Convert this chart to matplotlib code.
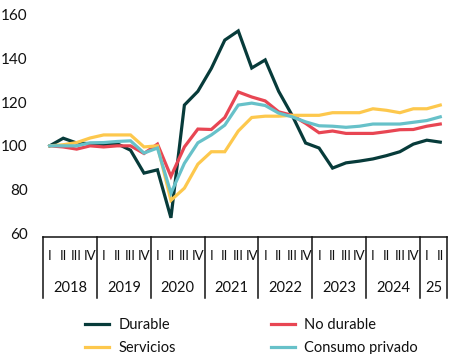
import matplotlib
matplotlib.use("Agg")
import matplotlib.pyplot as plt
import matplotlib.transforms as mtransforms
import numpy as np

plt.rcParams['font.family'] = ['Lato', 'DejaVu Sans']

years = ["2018", "2019", "2020", "2021", "2022", "2023", "2024", "25"]
quarters_per_year = [4, 4, 4, 4, 4, 4, 4, 2]
quarter_labels = ["I", "II", "III", "IV"]

durable = [100, 103.5, 101.3, 101, 100.3, 101, 98, 87.5, 89, 67,
           118.7, 125, 135.5, 148.5, 152.7, 135.7, 139.4, 125, 114, 101.3,
           99, 89.8, 92.2, 93, 94, 95.5, 97.3, 100.8, 102.6, 101.7]
no_durable = [100, 99.5, 98.5, 100, 99.5, 100, 100, 96.5, 100.8, 86,
              99.5, 107.7, 107.5, 113, 124.7, 122.4, 120.6, 115.6, 114, 110.3,
              106, 106.8, 105.7, 105.7, 105.7, 106.5, 107.4, 107.5, 109, 110]
servicios = [100, 100.5, 101.5, 103.6, 105, 105, 105, 99.5, 100, 75,
             80.6, 91.6, 97.3, 97.3, 106.8, 113, 113.6, 113.6, 114, 114,
             114, 115.2, 115.2, 115.2, 117, 116.3, 115.2, 117, 117, 118.7]
consumo = [100, 100, 100, 101.4, 101.5, 102, 102.3, 96.7, 99, 78.3,
           92, 101.4, 105, 109.5, 118.7, 119.6, 118.5, 115, 113.3, 111,
           109.2, 109, 108.5, 109, 110, 110, 110, 110.8, 111.6, 113.3]

series = [
    ("Durable", durable, "#073b3a"),
    ("No durable", no_durable, "#e84653"),
    ("Servicios", servicios, "#fdc84d"),
    ("Consumo privado", consumo, "#67c1c9"),
]

fig = plt.figure(figsize=(4.5, 3.54), dpi=100)
ax = fig.add_axes([43/450, 1-237/354, 404/450, 222/354])

n = len(durable)
x = np.arange(n) + 0.5
handles = {}
for name, vals, col in series:
    h, = ax.plot(x, vals, color=col, lw=2.3, solid_joinstyle='miter', label=name)
    handles[name] = h

ax.set_xlim(0, sum(quarters_per_year))
ax.set_ylim(58.2, 160)
ax.set_yticks([60, 80, 100, 120, 140, 160])
ax.tick_params(axis='y', length=0, pad=11, labelsize=11, colors='#111111')
ax.set_xticks([])
for s in ['top', 'right', 'left']:
    ax.spines[s].set_visible(False)
ax.spines['bottom'].set_color('#111111')
ax.spines['bottom'].set_linewidth(1.1)

trans = mtransforms.blended_transform_factory(ax.transData, ax.transAxes)
bottom = -(298-237)/222
pos = 0
bounds = [0]
for q in quarters_per_year:
    pos += q
    bounds.append(pos)
for b in bounds:
    ax.plot([b, b], [0, bottom], transform=trans, color='#111111', lw=1.1,
            clip_on=False)
pos = 0
for yr, q in zip(years, quarters_per_year):
    for k in range(q):
        ax.text(pos + k + 0.5, -(256-237)/222, quarter_labels[k], transform=trans,
                ha='center', va='center', fontsize=9.5, color='#111111')
    ax.text(pos + q/2, -(288-237)/222, yr, transform=trans, ha='center',
            va='center', fontsize=10.5, color='#111111')
    pos += q

order = ["Durable", "Servicios", "No durable", "Consumo privado"]
leg = fig.legend([handles[o] for o in order], order, ncol=2, loc='upper left',
                 bbox_to_anchor=(85/450, 1-318/354), frameon=False,
                 borderpad=0, borderaxespad=0, handlelength=1.65,
                 handletextpad=0.65, columnspacing=6.5, labelspacing=0.6,
                 fontsize=10.5)
for t in leg.get_texts():
    t.set_color('#111111')

fig.savefig("out.png", dpi=100)
